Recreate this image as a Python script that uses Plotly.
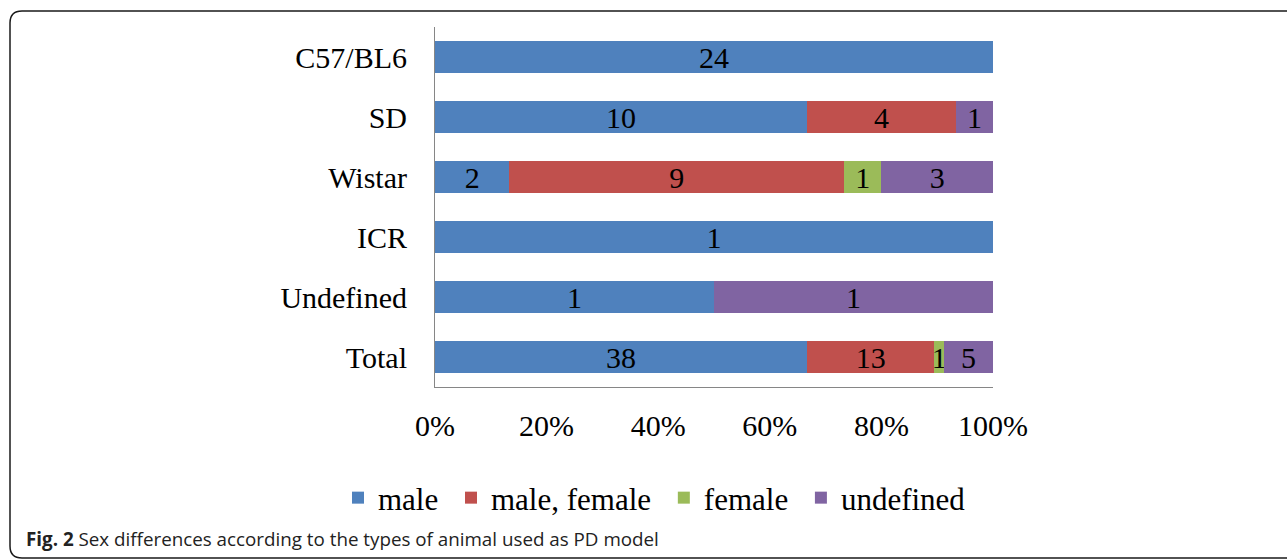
import plotly.graph_objects as go

categories = ["C57/BL6", "SD", "Wistar", "ICR", "Undefined", "Total"]
series_names = ["male", "male, female", "female", "undefined"]
male = [24, 10, 2, 1, 1, 38]
male_female = [0, 4, 9, 0, 0, 13]
female = [0, 0, 1, 0, 0, 1]
undefined = [0, 1, 3, 0, 1, 5]
x_ticks = [0, 20, 40, 60, 80, 100]
x_tick_labels = ["0%", "20%", "40%", "60%", "80%", "100%"]
colors = ["#4F81BD", "#C0504D", "#9BBB59", "#8064A2"]
caption = "<b>Fig. 2</b> Sex differences according to the types of animal used as PD model"

W, H = 1287, 559
L, R, T, B = 435, 993, 27, 387
serif = "Liberation Serif, Times New Roman, serif"
fs = 30

fig = go.Figure()
for name, vals, col in zip(series_names, [male, male_female, female, undefined], colors):
    fig.add_trace(go.Bar(
        name=name + "\u00a0", y=categories, x=vals, orientation="h",
        marker=dict(color=col, line=dict(width=0)),
        text=[str(v) if v else "" for v in vals],
        texttemplate="%{text}", textposition="inside",
        insidetextanchor="middle", textangle=0,
        textfont=dict(family=serif, size=fs, color="black"),
        hoverinfo="skip",
    ))

def px(xp):
    return (xp - L) / (R - L)

def py(yp):
    return (B - yp) / (B - T)

# rounded frame
x0, x1, y0, y1, r = 10, 1300, 11, 558, 12
rx, ry = r / (R - L), r / (B - T)
path = (f"M {px(x0)},{py(y0) - ry} "
        f"Q {px(x0)},{py(y0)} {px(x0) + rx},{py(y0)} "
        f"L {px(x1)},{py(y0)} L {px(x1)},{py(y1)} "
        f"L {px(x0) + rx},{py(y1)} "
        f"Q {px(x0)},{py(y1)} {px(x0)},{py(y1) + ry} Z")

fig.update_layout(
    width=W, height=H,
    margin=dict(l=L, r=W - R, t=T, b=H - B, pad=0),
    barmode="stack", barnorm="percent", bargap=0.46,
    plot_bgcolor="white", paper_bgcolor="white",
    font=dict(family=serif, size=fs, color="black"),
    uniformtext=dict(mode="show", minsize=fs),
    showlegend=True,
    legend=dict(orientation="h", x=px(338), xanchor="left", y=py(498), yanchor="middle",
                font=dict(family=serif, size=31, color="black"), traceorder="normal",
                bgcolor="rgba(0,0,0,0)"),
    xaxis=dict(range=[0, 100], tickvals=x_ticks, ticktext=x_tick_labels, showgrid=False,
               zeroline=False, showline=True, linecolor="#868686", linewidth=1,
               ticks="", ticklabelstandoff=12,
               tickfont=dict(family=serif, size=fs, color="black"), fixedrange=True),
    yaxis=dict(autorange="reversed", showgrid=False, zeroline=False, showline=True,
               linecolor="#868686", linewidth=1, ticks="", ticklabelstandoff=21,
               tickfont=dict(family=serif, size=fs, color="black"), fixedrange=True),
    shapes=[dict(type="path", xref="paper", yref="paper", path=path,
                 line=dict(color="#1a1a1a", width=1.5), fillcolor="rgba(0,0,0,0)",
                 layer="above")],
    annotations=[dict(text=caption, xref="paper", yref="paper", x=px(24), y=py(539),
                      xanchor="left", yanchor="middle", showarrow=False,
                      font=dict(family="Open Sans, Noto Sans, sans-serif", size=18.8,
                                color="#222222"))],
)

fig.write_html("out.html", config={"displayModeBar": False},
               post_script="document.body.style.margin='0';document.body.style.overflow='hidden';")
